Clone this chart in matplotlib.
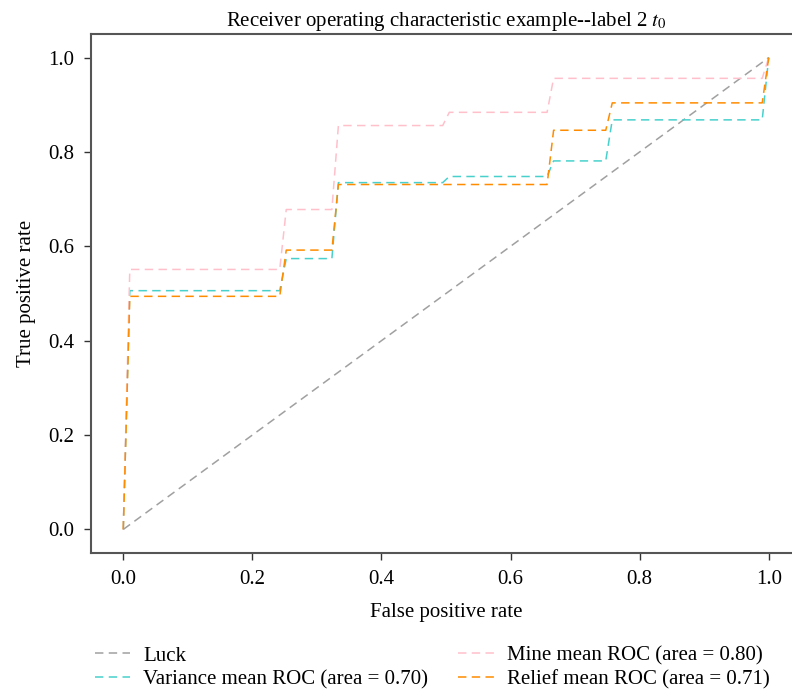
import numpy as np
import matplotlib
matplotlib.use("Agg")
import matplotlib.pyplot as plt

plt.rcParams['font.family'] = ['Liberation Serif', 'DejaVu Serif']
plt.rcParams['mathtext.fontset'] = 'stix'

# step points of the mean ROC curves
luck_fpr = [0.0, 1.0]
luck_tpr = [0.0, 1.0]

var_fpr = [0.0, 0.0101, 0.2424, 0.2525, 0.3232, 0.3333, 0.4949, 0.5051, 0.6566, 0.6667, 0.7475, 0.7576, 0.9899, 1.0]
var_tpr = [0.0, 0.506, 0.506, 0.574, 0.574, 0.735, 0.735, 0.748, 0.748, 0.781, 0.781, 0.868, 0.868, 1.0]

mine_fpr = [0.0, 0.0101, 0.2424, 0.2525, 0.3232, 0.3333, 0.4949, 0.5051, 0.6566, 0.6667, 0.9899, 1.0]
mine_tpr = [0.0, 0.551, 0.551, 0.678, 0.678, 0.856, 0.856, 0.884, 0.884, 0.956, 0.956, 1.0]

relief_fpr = [0.0, 0.0101, 0.2424, 0.2525, 0.3232, 0.3333, 0.6566, 0.6667, 0.7475, 0.7576, 0.9899, 1.0]
relief_tpr = [0.0, 0.494, 0.494, 0.592, 0.592, 0.731, 0.731, 0.846, 0.846, 0.904, 0.904, 1.0]

fig = plt.figure(figsize=(7.92, 6.93), dpi=100)
ax = fig.add_axes([91 / 792, 1 - 553 / 693, 710 / 792, 519 / 693])

dash = (5.5, 3.5)
ax.plot(luck_fpr, luck_tpr, '--', color='#a0a0a0', lw=1.1, dashes=dash, label='Luck')
ax.plot(var_fpr, var_tpr, '--', color='mediumturquoise', lw=1.1, dashes=dash,
        label='Variance mean ROC (area = 0.70)')
ax.plot(mine_fpr, mine_tpr, '--', color='pink', lw=1.1, dashes=dash,
        label='Mine mean ROC (area = 0.80)')
ax.plot(relief_fpr, relief_tpr, '--', color='darkorange', lw=1.1, dashes=dash,
        label='Relief mean ROC (area = 0.71)')

ax.set_xlim(-0.05, 1.05)
ax.set_ylim(-0.05, 1.05)
ax.set_xticks([0.0, 0.2, 0.4, 0.6, 0.8, 1.0])
ax.set_yticks([0.0, 0.2, 0.4, 0.6, 0.8, 1.0])
ax.tick_params(labelsize=15, length=5, width=1, color='#333333', pad=7)
for s in ax.spines.values():
    s.set_color('#555555')
    s.set_linewidth(1.5)

ax.set_xlabel('False positive rate', fontsize=15, labelpad=10)
ax.set_ylabel('True positive rate', fontsize=15, labelpad=9)
ax.set_title('Receiver operating characteristic example--label 2 $t_0$', fontsize=15, pad=6)

fig.legend(loc='lower left', bbox_to_anchor=(0.096, -0.022), ncol=2, frameon=False,
           fontsize=15, handlelength=1.7, handletextpad=0.62, columnspacing=1.45,
           labelspacing=0.2)

fig.savefig('out.png', dpi=100)
